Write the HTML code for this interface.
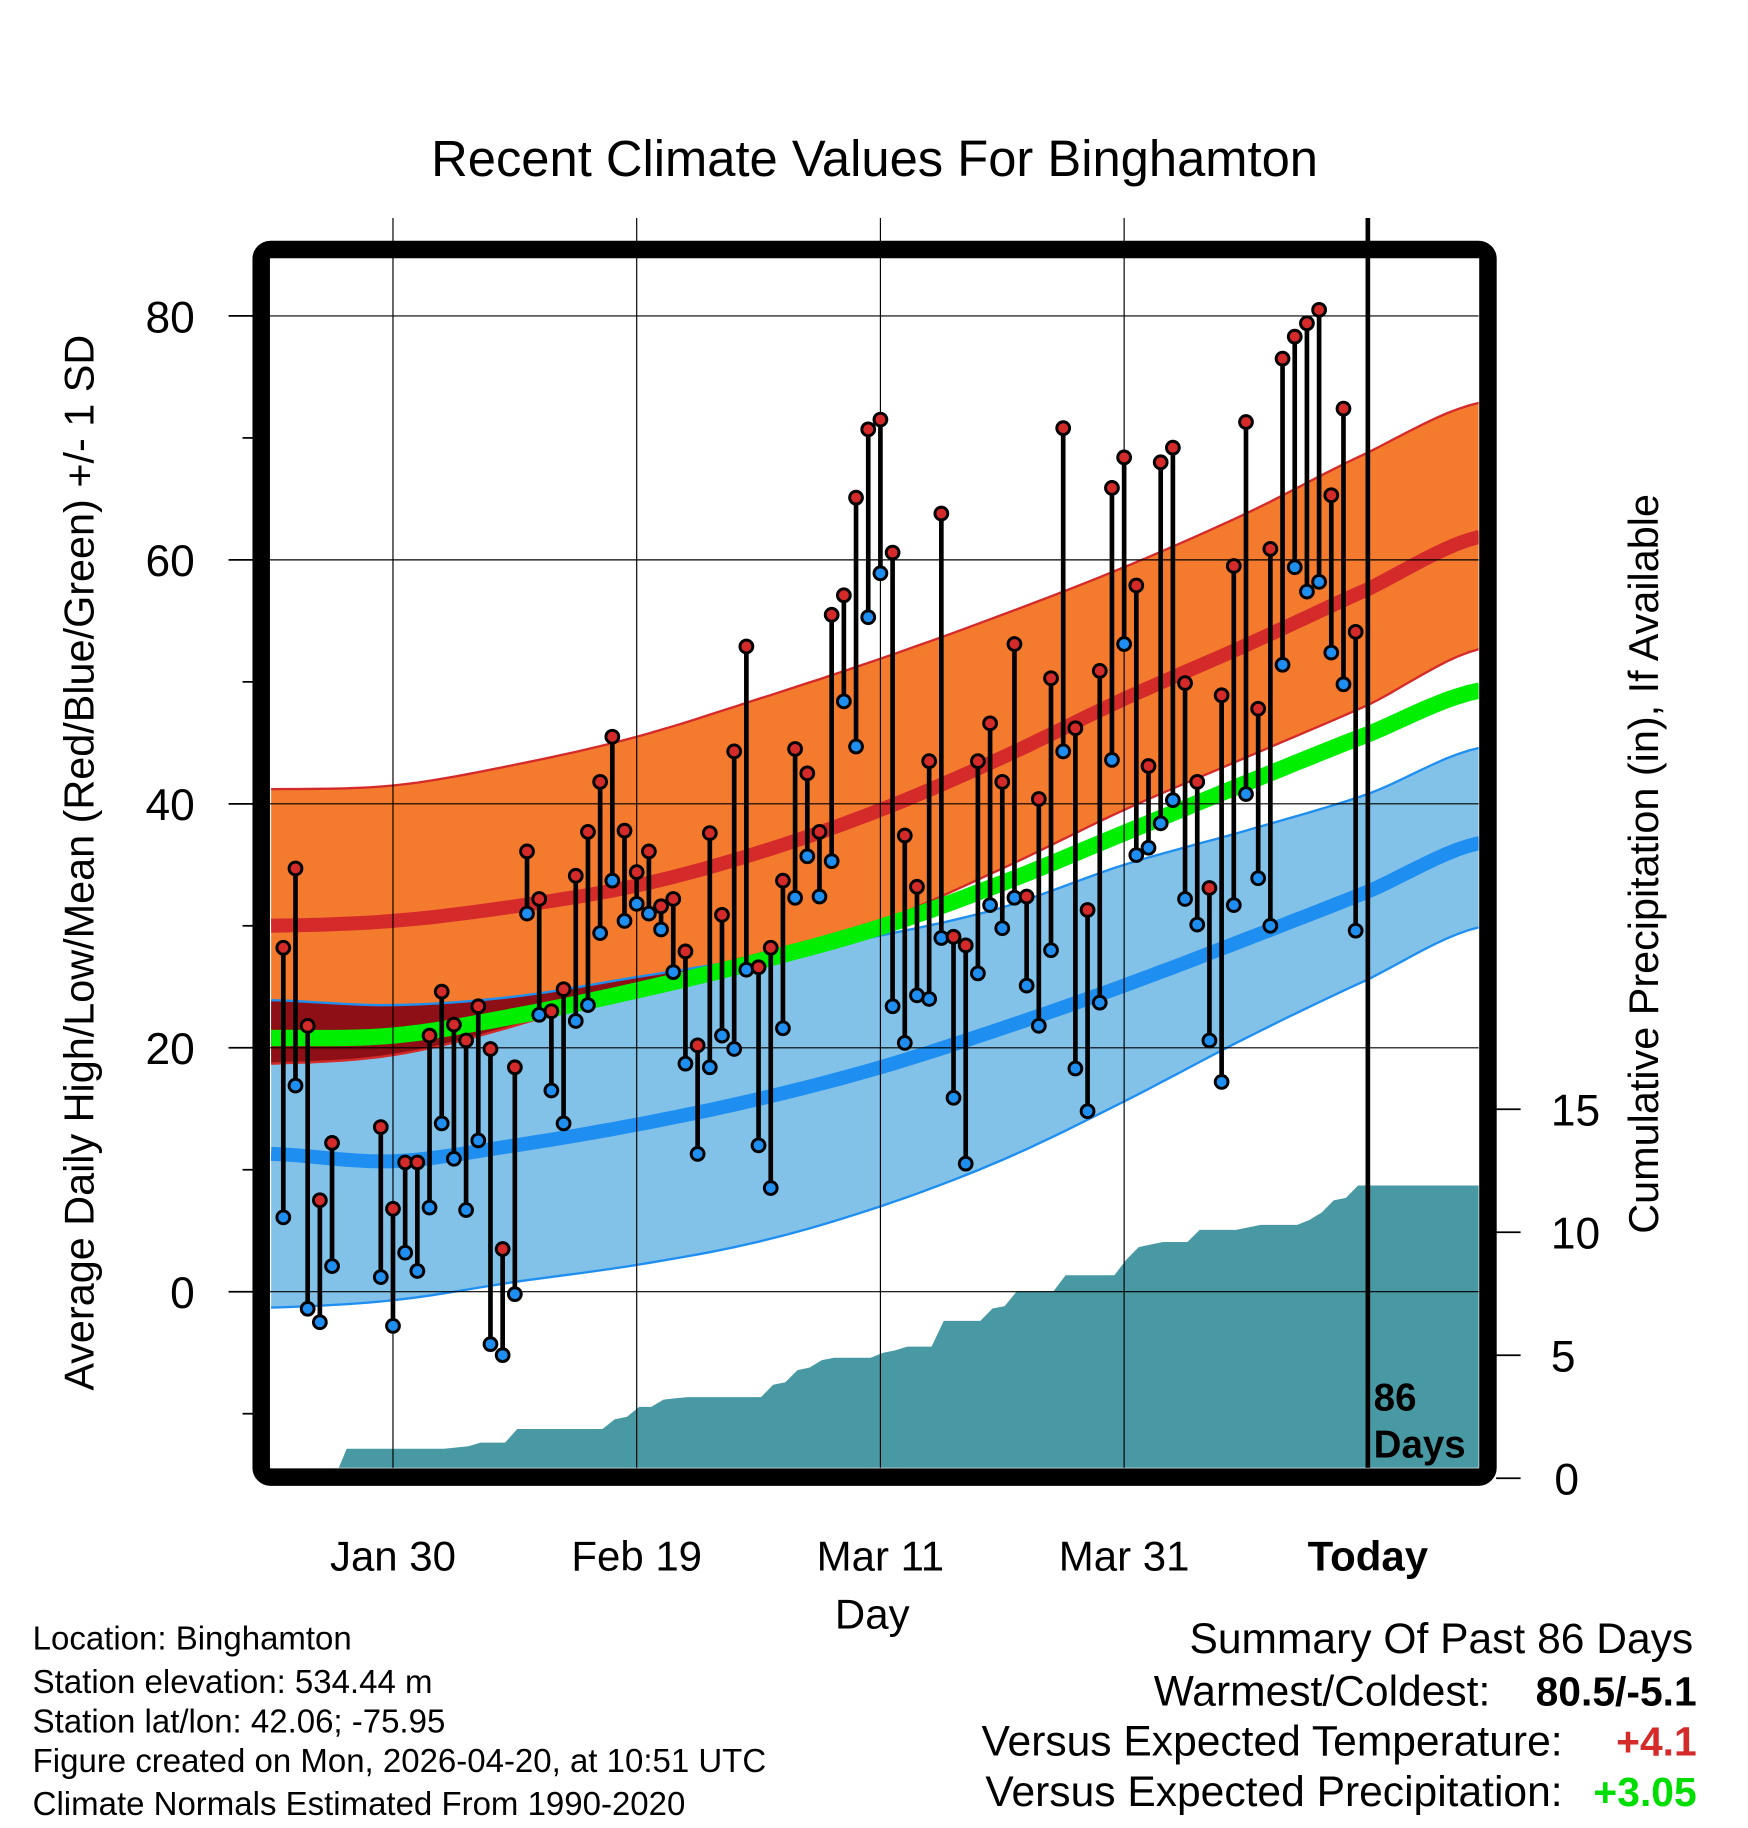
<!DOCTYPE html>
<html><head><meta charset="utf-8"><style>
html,body{margin:0;padding:0;background:#fff}
svg{display:block}
text{font-family:"Liberation Sans",Arial,sans-serif}
</style></head><body>
<svg id="chart" width="1748" height="1828" viewBox="0 0 1499 1568" preserveAspectRatio="none" xmlns="http://www.w3.org/2000/svg">
<defs><clipPath id="plotclip"><rect x="231" y="221" width="1037" height="1038"/></clipPath></defs>
<rect x="0" y="0" width="1499" height="1568" fill="#fff"/>
<text x="750" y="151" font-size="43.5" text-anchor="middle">Recent Climate Values For Binghamton</text>
<g id="grid"></g>
<g id="bands" clip-path="url(#plotclip)"></g>
<g id="precip" clip-path="url(#plotclip)"></g>
<g id="gridover"></g>
<g id="marks"></g>
<rect x="224" y="214" width="1052" height="1053" rx="8" fill="none" stroke="#000" stroke-width="15"/>
<g id="axes"></g>
<text x="80" y="740" font-size="35.5" text-anchor="middle" transform="rotate(-90 80 740)">Average Daily High/Low/Mean (Red/Blue/Green) +/- 1 SD</text>
<text x="1422" y="741" font-size="35.5" text-anchor="middle" transform="rotate(-90 1422 741)">Cumulative Precipitation (in), If Available</text>
<text x="748" y="1397" font-size="36" text-anchor="middle">Day</text>
<text x="1178" y="1210" font-size="33" font-weight="bold">86</text>
<text x="1178" y="1250" font-size="33" font-weight="bold">Days</text>
<g font-size="28.3">
<text x="28" y="1415">Location: Binghamton</text>
<text x="28" y="1452">Station elevation: 534.44 m</text>
<text x="28" y="1486">Station lat/lon: 42.06; -75.95</text>
<text x="28" y="1520">Figure created on Mon, 2026-04-20, at 10:51 UTC</text>
<text x="28" y="1557">Climate Normals Estimated From 1990-2020</text>
</g>
<g font-size="36.5">
<text x="1452" y="1418" text-anchor="end">Summary Of Past 86 Days</text>
<text x="1278" y="1463" text-anchor="end">Warmest/Coldest:</text>
<text x="1455" y="1463" text-anchor="end" font-weight="bold" font-size="35">80.5/-5.1</text>
<text x="1340" y="1506" text-anchor="end">Versus Expected Temperature:</text>
<text x="1455" y="1506" text-anchor="end" font-weight="bold" font-size="35" fill="#d42a2a">+4.1</text>
<text x="1340" y="1549" text-anchor="end">Versus Expected Precipitation:</text>
<text x="1455" y="1549" text-anchor="end" font-weight="bold" font-size="35" fill="#00dd00">+3.05</text>
</g>
</svg>
<script>
// Normals sampled every 10 days from d=-10 (d=0 is Jan 30)
const normDays = [-10,0,10,20,30,40,50,60,70,80,89.2];
const highMean = [30.0,30.4,31.6,33.3,36.0,39.5,43.8,48.6,53.0,57.6,61.9];
const highUp   = [41.2,41.5,43.2,45.5,48.6,51.9,55.5,59.4,63.8,68.8,72.9];
const highDn   = [18.7,19.4,21.8,25.1,27.7,30.4,34.7,39.5,43.8,48.1,52.7];
const lowMean  = [11.3,10.7,12.0,13.7,15.8,18.4,21.6,25.1,28.9,32.8,36.8];
const lowUp    = [23.9,23.5,24.2,25.8,27.4,29.2,31.5,35.0,37.8,40.8,44.6];
const lowDn    = [-1.3,-0.7,0.8,2.2,4.1,7.0,10.8,15.6,20.8,25.6,29.9];
const avgMean  = [20.8,21.0,22.6,24.7,27.1,29.9,33.5,37.6,41.7,45.7,49.3];
// Daily observations, d=-9..79
const obsStart = -9;
const highs = [28.2,34.7,21.8,7.5,12.2,null,null,null,13.5,6.8,10.6,10.6,21.0,24.6,21.9,20.6,23.4,19.9,3.5,18.4,36.1,32.2,23.0,24.8,34.1,37.7,41.8,45.5,37.8,34.4,36.1,31.6,32.2,27.9,20.2,37.6,30.9,44.3,52.9,26.6,28.2,33.7,44.5,42.5,37.7,55.5,57.1,65.1,70.7,71.5,60.6,37.4,33.2,43.5,63.8,29.1,28.4,43.5,46.6,41.8,53.1,32.4,40.4,50.3,70.8,46.2,31.3,50.9,65.9,68.4,57.9,43.1,68.0,69.2,49.9,41.8,33.1,48.9,59.5,71.3,47.8,60.9,76.5,78.3,79.4,80.5,65.3,72.4,54.1];
const lows  = [6.1,16.9,-1.4,-2.5,2.1,null,null,null,1.2,-2.8,3.2,1.7,6.9,13.8,10.9,6.7,12.4,-4.3,-5.2,-0.2,31.0,22.7,16.5,13.8,22.2,23.5,29.4,33.7,30.4,31.8,31.0,29.7,26.2,18.7,11.3,18.4,21.0,19.9,26.4,12.0,8.5,21.6,32.3,35.7,32.4,35.3,48.4,44.7,55.3,58.9,23.4,20.4,24.3,24.0,29.0,15.9,10.5,26.1,31.7,29.8,32.3,25.1,21.8,28.0,44.3,18.3,14.8,23.7,43.6,53.1,35.8,36.4,38.4,40.3,32.2,30.1,20.6,17.2,31.7,40.8,33.9,30.0,51.4,59.4,57.4,58.2,52.4,49.8,29.6];
// Cumulative precipitation, d=-6..79
const precipStart = -6;
const precip = [0,1.2,1.2,1.2,1.2,1.2,1.2,1.2,1.2,1.2,1.25,1.3,1.45,1.45,1.45,2.0,2.0,2.0,2.0,2.0,2.0,2.0,2.0,2.4,2.5,2.9,2.9,3.2,3.25,3.3,3.3,3.3,3.3,3.3,3.3,3.3,3.8,3.9,4.4,4.5,4.8,4.9,4.9,4.9,4.9,5.1,5.2,5.35,5.35,5.35,6.4,6.4,6.4,6.4,6.9,7.0,7.6,7.6,7.6,7.6,8.25,8.25,8.25,8.25,8.25,8.9,9.4,9.5,9.6,9.6,9.6,10.1,10.1,10.1,10.1,10.2,10.3,10.3,10.3,10.3,10.5,10.8,11.3,11.4,11.9,11.9];
const xTickDays = [0,20,40,60,80];
const xTickLabels = ["Jan 30","Feb 19","Mar 11","Mar 31","Today"];
const yTicks = [0,20,40,60,80];
const y2Ticks = [0,5,10,15];

const NS = "http://www.w3.org/2000/svg";
const X = d => 337 + 10.45 * d;
const Y = v => 1108 - 10.4625 * v;
const Y2 = p => 1268 - 21.1 * p;
function mk(tag, attrs, parent){const e=document.createElementNS(NS,tag);for(const k in attrs)e.setAttribute(k,attrs[k]);parent.appendChild(e);return e;}
function interp(arr){
  const pts=[];
  for(let i=0;i<normDays.length-1;i++){
    const p0=arr[Math.max(i-1,0)],p1=arr[i],p2=arr[i+1],p3=arr[Math.min(i+2,arr.length-1)];
    const d0=normDays[i],d1=normDays[i+1];
    for(let s=0;s<10;s++){const t=s/10;
      const v=0.5*((2*p1)+(-p0+p2)*t+(2*p0-5*p1+4*p2-p3)*t*t+(-p0+3*p1-3*p2+p3)*t*t*t);
      pts.push([d0+(d1-d0)*t,v]);}
  }
  pts.push([normDays[normDays.length-1],arr[arr.length-1]]);
  return pts;
}
const line = pts => pts.map((p,i)=>(i?"L":"M")+X(p[0]).toFixed(1)+" "+Y(p[1]).toFixed(1)).join(" ");
const band = (a,b) => line(a)+" "+b.slice().reverse().map(p=>"L"+X(p[0]).toFixed(1)+" "+Y(p[1]).toFixed(1)).join(" ")+" Z";

const bands=document.getElementById('bands');
const hU=interp(highUp),hD=interp(highDn),lU=interp(lowUp),lD=interp(lowDn);
let el;
el=mk('path',{d:band(lU,lD),fill:'#82c1e8'},bands);


el=mk('path',{d:band(hU,hD),fill:'#f47a2e'},bands);


const ovTop=lU.map((p,i)=>[p[0],Math.max(p[1],hD[i][1])]);
el=mk('path',{d:band(ovTop,hD),fill:'#8e1016'},bands);


el=mk('path',{d:line(hU),fill:'none',stroke:'#d42a2a','stroke-width':2},bands);


el=mk('path',{d:line(hD),fill:'none',stroke:'#d42a2a','stroke-width':2},bands);


el=mk('path',{d:line(lU),fill:'none',stroke:'#1e8ff0','stroke-width':2},bands);


el=mk('path',{d:line(lD),fill:'none',stroke:'#1e8ff0','stroke-width':2},bands);


el=mk('path',{d:line(interp(avgMean)),fill:'none',stroke:'#00ee00','stroke-width':14},bands);


el=mk('path',{d:line(interp(highMean)),fill:'none',stroke:'#d42a2a','stroke-width':12},bands);


el=mk('path',{d:line(interp(lowMean)),fill:'none',stroke:'#1e8ff0','stroke-width':12},bands);



// precip area
const pg=document.getElementById('precip');
let pd="M"+X(precipStart+0.5)+" "+Y2(0);
precip.forEach((p,i)=>{pd+=" L"+X(precipStart+i+1.2).toFixed(1)+" "+Y2(p).toFixed(1);});
pd+=" L1270 "+Y2(precip[precip.length-1]).toFixed(1)+" L1270 "+Y2(-1)+" L"+X(precipStart)+" "+Y2(-1)+" Z";
el=mk('path',{d:pd,fill:'#4899a3'},pg);



// gridlines
const go=document.getElementById('gridover');
yTicks.forEach(v=>{el=mk('line',{x1:231,x2:1268,y1:Y(v),y2:Y(v),stroke:'#000','stroke-width':1},go);

});
xTickDays.forEach((d,i)=>{el=mk('line',{x1:X(d),x2:X(d),y1:187,y2:1259,stroke:'#000','stroke-width':i==4?4:1},go);

});

// temperature bars
const mg=document.getElementById('marks');
highs.forEach((h,i)=>{
  const l=lows[i]; if(h==null||l==null) return;
  const x=X(obsStart+i);
  el=mk('line',{x1:x,x2:x,y1:Y(h),y2:Y(l),stroke:'#000','stroke-width':4},mg);
  
  
});
highs.forEach((h,i)=>{
  const l=lows[i]; if(h==null||l==null) return;
  const x=X(obsStart+i);
  el=mk('circle',{cx:x,cy:Y(l),r:5.5,fill:'#1e8ff0',stroke:'#000','stroke-width':2.5},mg);
  
  
  el=mk('circle',{cx:x,cy:Y(h),r:5.5,fill:'#d42a2a',stroke:'#000','stroke-width':2.5},mg);
  
  
});

// axes
const ax=document.getElementById('axes');
yTicks.forEach(v=>{
  el=mk('line',{x1:196,x2:217,y1:Y(v),y2:Y(v),stroke:'#000','stroke-width':1.5},ax);
  
  
  el=mk('text',{x:167,y:Y(v)+14,'font-size':38,'text-anchor':'end'},ax); el.textContent=v;
  
  
});
[-10,10,30,50,70].forEach(v=>{el=mk('line',{x1:208,x2:217,y1:Y(v),y2:Y(v),stroke:'#000','stroke-width':1.5},ax);

});
y2Ticks.forEach(p=>{
  el=mk('line',{x1:1283,x2:1304,y1:Y2(p),y2:Y2(p),stroke:'#000','stroke-width':1.5},ax);
  
  
  el=mk('text',{x:p==0?1333:1330,y:Y2(p)+14,'font-size':38},ax); el.textContent=p;
  
  
});
xTickDays.forEach((d,i)=>{
  el=mk('text',{x:X(d),y:1347,'font-size':36,'text-anchor':'middle','font-weight':i==4?'bold':'normal'},ax); el.textContent=xTickLabels[i];
  
  
});
</script>
</body></html>
